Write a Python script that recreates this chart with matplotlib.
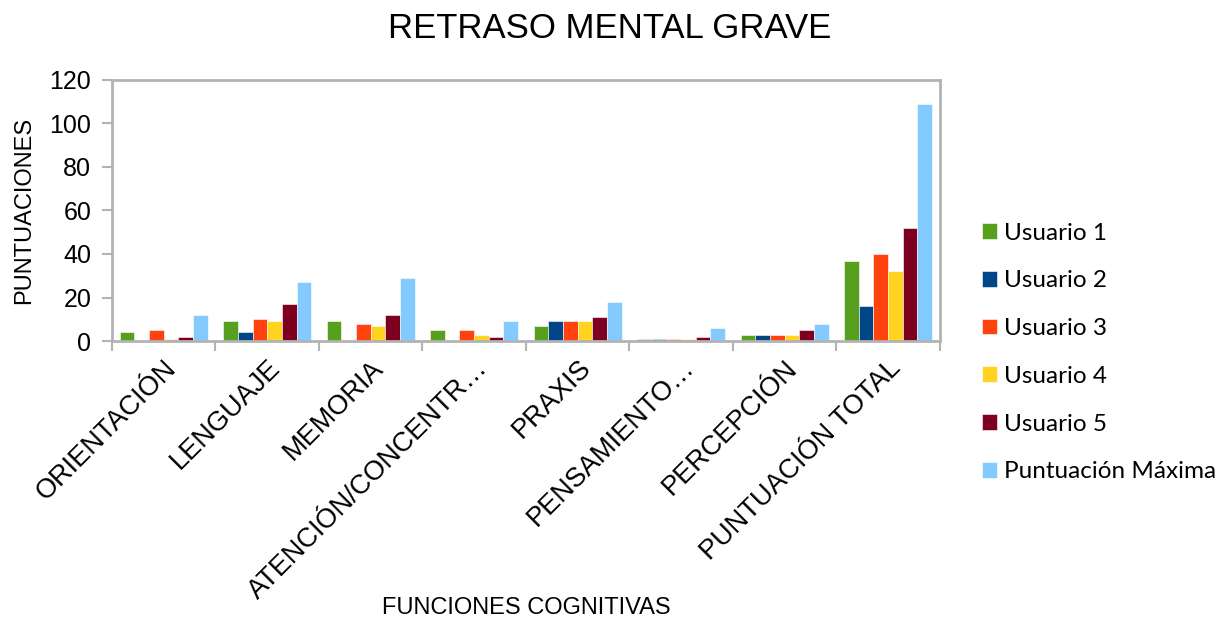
import matplotlib
matplotlib.use("Agg")
import matplotlib.pyplot as plt
import numpy as np

plt.rcParams['font.family'] = ['Liberation Sans', 'DejaVu Sans']

categories = ["ORIENTACIÓN", "LENGUAJE", "MEMORIA", "ATENCIÓN/CONCENTR…", "PRAXIS",
              "PENSAMIENTO…", "PERCEPCIÓN", "PUNTUACIÓN TOTAL"]
series_names = ["Usuario 1", "Usuario 2", "Usuario 3", "Usuario 4", "Usuario 5", "Puntuación Máxima"]
usuario1 = [4, 9, 9, 5, 7, 1, 3, 37]
usuario2 = [0, 4, 0, 0, 9, 1, 3, 16]
usuario3 = [5, 10, 8, 5, 9, 1, 3, 40]
usuario4 = [1, 9, 7, 3, 9, 1, 3, 32]
usuario5 = [2, 17, 12, 2, 11, 2, 5, 52]
maxima = [12, 27, 29, 9, 18, 6, 8, 109]
series = [usuario1, usuario2, usuario3, usuario4, usuario5, maxima]
colors = ["#57A01D", "#004586", "#FF420E", "#FFD320", "#7E0021", "#83CAFF"]

fig = plt.figure(figsize=(12.21, 6.19), dpi=100)
ax = fig.add_axes([0.0917, 0.449, 0.678, 0.422])

n = len(series)
x = np.arange(len(categories))
w = 0.85 / n
for i, (vals, c, name) in enumerate(zip(series, colors, series_names)):
    ax.bar(x - 0.425 + w * (i + 0.5), vals, width=w, color=c, label=name,
           edgecolor='white', linewidth=0.4)

ax.set_xlim(-0.5, len(categories) - 0.5)
ax.set_ylim(0, 120)
ax.set_yticks(np.arange(0, 121, 20))
ax.tick_params(axis='y', labelsize=18, length=7, color='#b3b3b3', width=1.5,
               direction='out', pad=8)
ax.set_xticks(x)
ax.set_xticklabels(categories, rotation=45, ha='right', va='top', rotation_mode='anchor',
                   fontsize=19.5)
ax.tick_params(axis='x', length=0, pad=10)
ax.set_xticks(np.arange(-0.5, len(categories), 1), minor=True)
ax.tick_params(axis='x', which='minor', length=7, color='#b3b3b3', width=1.5)
for s in ax.spines.values():
    s.set_color('#b3b3b3')
    s.set_linewidth(2)

ax.set_ylabel("PUNTUACIONES", fontsize=17, labelpad=10)
fig.text(526 / 1221, 1 - 608 / 619, "FUNCIONES COGNITIVAS", ha='center', va='center', fontsize=17)
fig.text(610 / 1221, 1 - 28 / 619, "RETRASO MENTAL GRAVE", ha='center', va='center', fontsize=25)

ax.legend(loc='center left', bbox_to_anchor=(982 / 1221, 1 - 352.5 / 619),
          bbox_transform=fig.transFigure, prop={'family': 'Lato', 'size': 17.5},
          frameon=False, borderpad=0, borderaxespad=0,
          handlelength=0.62, handleheight=0.62, handletextpad=0.3, labelspacing=1.1)

fig.savefig("out.png", dpi=100)
